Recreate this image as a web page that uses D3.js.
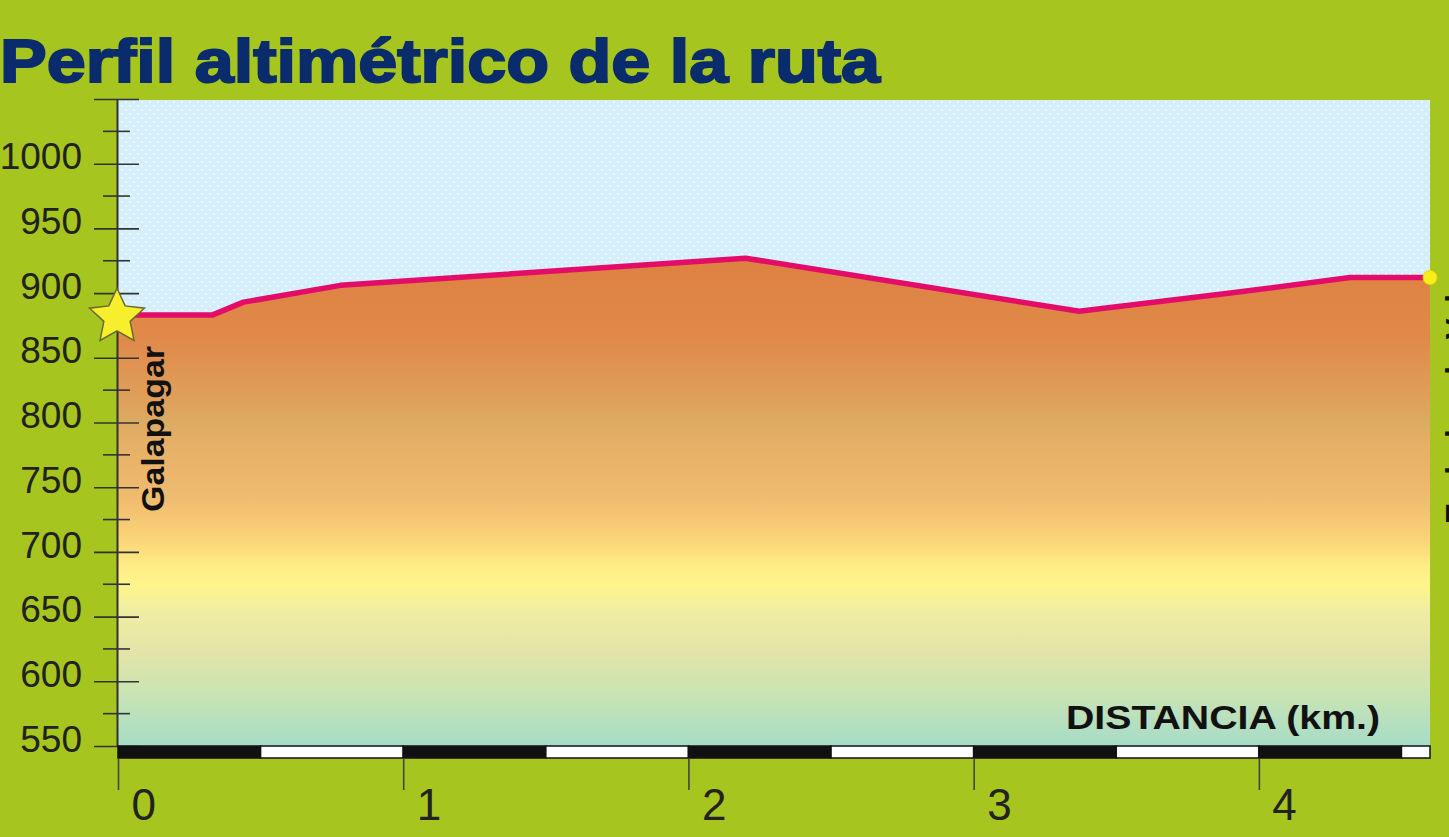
<!DOCTYPE html>
<html><head><meta charset="utf-8">
<script src="https://cdn.jsdelivr.net/npm/d3@7"></script>
<style>
html,body{margin:0;padding:0;background:#a6c51f;overflow:hidden;}
svg{display:block;}
</style></head>
<body>
<svg id="chart" width="1449" height="837"></svg>
<script>
// ---- data ----
const distanceKm = [0, 0.33, 0.44, 0.78, 2.2, 3.37, 3.9, 4.32, 4.6];
const altitudeM  = [883, 883, 893, 906, 927, 886, 900, 912, 912];
const yMajorTicks = [550, 600, 650, 700, 750, 800, 850, 900, 950, 1000, 1050];
const yMinorTicks = [575, 625, 675, 725, 775, 825, 875, 925, 975, 1025];
const yTickLabels = ["550","600","650","700","750","800","850","900","950","1000",""];
const xTicks = [0, 1, 2, 3, 4];
const xTickLabels = ["0","1","2","3","4"];
const scaleBarBreaks = [0, 0.5, 1, 1.5, 2, 2.5, 3, 3.5, 4, 4.5, 4.6];
const chartTitle = "Perfil altimétrico de la ruta";
const startLabel = "Galapagar";
const endLabel = "Embalse de Valmayor";
const xAxisTitle = "DISTANCIA (km.)";

(function(){
// ---- layout ----
const svg = d3.select("#chart");
const pL = 118, pR = 1430, pT = 99, pB = 746;
const x = d3.scaleLinear().domain([0, 4.6]).range([pL, pR]);
const y = d3.scaleLinear().domain([550, 1050]).range([pB, pT]);

const defs = svg.append("defs");
const sky = defs.append("pattern").attr("id","skyDots").attr("patternUnits","userSpaceOnUse")
  .attr("width",8).attr("height",8);
sky.append("rect").attr("width",8).attr("height",8).attr("fill","#d5eefc");
sky.append("circle").attr("cx",2).attr("cy",2).attr("r",0.9).attr("fill","#ffffff").attr("opacity",0.8);
sky.append("circle").attr("cx",6).attr("cy",6).attr("r",0.9).attr("fill","#ffffff").attr("opacity",0.8);

const grad = defs.append("linearGradient").attr("id","terrain")
  .attr("gradientUnits","userSpaceOnUse").attr("x1",0).attr("x2",0).attr("y1",250).attr("y2",pB);
[[250,"#dd8040"],[340,"#e08a4a"],[395,"#df9e5a"],[420,"#dcaa62"],[445,"#e6b066"],[500,"#f0bc70"],
 [540,"#fbd478"],[565,"#ffec84"],[585,"#fff48c"],[610,"#f0eea2"],[650,"#e4e4a8"],[690,"#cce4b2"],[746,"#a6dcc8"]]
 .forEach(([yy,c]) => grad.append("stop").attr("offset", ((yy-250)/(pB-250))).attr("stop-color", c));

// sky background
svg.append("rect").attr("x",pL).attr("y",pT+1).attr("width",pR-pL).attr("height",pB-pT-1)
  .attr("fill","url(#skyDots)");

// terrain area
const pts = distanceKm.map((d,i)=>[d, altitudeM[i]]);
const area = d3.area().x(d=>x(d[0])).y0(y(550)).y1(d=>y(d[1]));
svg.append("path").datum(pts).attr("d",area).attr("fill","url(#terrain)");

// profile line
const line = d3.line().x(d=>x(d[0])).y(d=>y(d[1]));
svg.append("path").datum(pts).attr("d",line).attr("fill","none")
  .attr("stroke","#e30d69").attr("stroke-width",5.5).attr("stroke-linejoin","round");

// y axis
const yAxis = d3.axisLeft(y).tickValues(yMajorTicks).tickSize(0)
  .tickFormat((d,i)=>yTickLabels[i]);
const yg = svg.append("g").attr("transform",`translate(${pL-1},0)`).call(yAxis);
yg.select(".domain").attr("stroke","#333").attr("stroke-width",2);
yg.selectAll(".tick line").attr("x1",-23).attr("x2",22).attr("stroke","#333").attr("stroke-width",1.6);
yg.selectAll(".tick text").attr("x",-35).attr("dy","0.14em")
  .attr("font-family","'Liberation Sans', Arial, sans-serif").attr("font-size",37).attr("fill","#222");
svg.append("g").selectAll("line").data(yMinorTicks).join("line")
  .attr("x1",pL-15).attr("x2",pL+12).attr("y1",d=>y(d)).attr("y2",d=>y(d))
  .attr("stroke","#333").attr("stroke-width",1.6);

// scale bar
const segs = d3.pairs(scaleBarBreaks);
svg.append("g").selectAll("rect").data(segs).join("rect")
  .attr("x",d=>x(d[0])).attr("width",d=>x(d[1])-x(d[0]))
  .attr("y",pB).attr("height",12)
  .attr("fill",(d,i)=> i%2===0 ? "#111" : "#ffffff")
  .attr("stroke","#111").attr("stroke-width",1.5);

// x axis ticks & labels
const xAxis = d3.axisBottom(x).tickValues(xTicks).tickSize(32).tickFormat((d,i)=>xTickLabels[i]);
const xg = svg.append("g").attr("transform",`translate(0,${pB+12})`).call(xAxis);
xg.select(".domain").remove();
xg.selectAll(".tick line").attr("stroke","#444").attr("stroke-width",1.6);
xg.selectAll(".tick text").attr("x",13).attr("y",62).attr("dy",0).attr("text-anchor","start")
  .attr("font-family","'Liberation Sans', Arial, sans-serif").attr("font-size",44).attr("fill","#222");

// x axis title
svg.append("text").attr("x",1380).attr("y",729).attr("text-anchor","end")
  .attr("font-family","'Liberation Sans', Arial, sans-serif").attr("font-weight","bold")
  .attr("font-size",33).attr("textLength",314).attr("lengthAdjust","spacingAndGlyphs")
  .attr("fill","#111").text(xAxisTitle);

// start label
svg.append("text").attr("transform",`translate(164,512) rotate(-90)`)
  .attr("font-family","'Liberation Sans', Arial, sans-serif").attr("font-weight","bold")
  .attr("font-size",31).attr("textLength",166).attr("lengthAdjust","spacingAndGlyphs")
  .attr("fill","#111").text(startLabel);

// end label (mostly beyond the right edge, as in the source image)
svg.append("text").attr("transform",`translate(1468,524) rotate(-90)`)
  .attr("font-family","'Liberation Sans', Arial, sans-serif").attr("font-weight","bold")
  .attr("font-size",31).attr("textLength",325).attr("lengthAdjust","spacingAndGlyphs")
  .attr("fill","#111").text(endLabel);

// start star (fat five-pointed star)
const fatStar = {
  draw(ctx, size) {
    const R = Math.sqrt(size / 1.2), r = R * 0.48;
    for (let i = 0; i < 10; i++) {
      const rad = i % 2 ? r : R, a = -Math.PI/2 + i * Math.PI/5;
      const px = rad * Math.cos(a), py = rad * Math.sin(a);
      if (i === 0) ctx.moveTo(px, py); else ctx.lineTo(px, py);
    }
    ctx.closePath();
  }
};
svg.append("path").attr("d", d3.symbol().type(fatStar).size(1000)())
  .attr("transform",`translate(${x(distanceKm[0])-1},${y(altitudeM[0])+2})`)
  .attr("fill","#f7ee2c").attr("stroke","#6b6a34").attr("stroke-width",1.5);

// end dot
svg.append("circle").attr("cx",x(distanceKm[distanceKm.length-1])).attr("cy",y(altitudeM[altitudeM.length-1]))
  .attr("r",7).attr("fill","#f8ee1c").attr("stroke","#e8d800").attr("stroke-width",1);

// title
svg.append("text").attr("x",0).attr("y",82)
  .attr("font-family","'Liberation Sans', Arial, sans-serif").attr("font-weight","bold")
  .attr("font-size",61).attr("textLength",880).attr("lengthAdjust","spacingAndGlyphs")
  .attr("fill","#0b2c6c").attr("stroke","#0b2c6c").attr("stroke-width",2)
  .text(chartTitle);
})();
</script>
</body></html>
